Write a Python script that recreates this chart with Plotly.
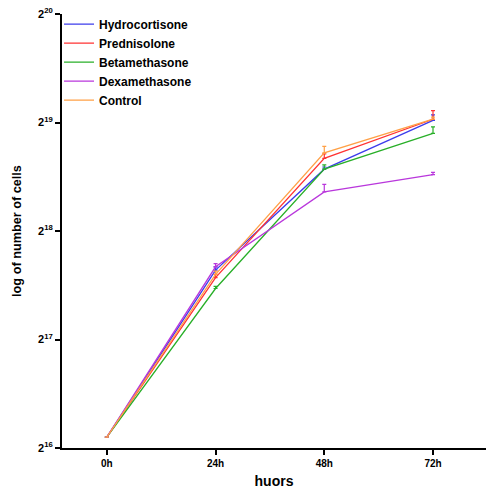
import plotly.graph_objects as go

hours = [0, 24, 48, 72]
x_labels = ["0h", "24h", "48h", "72h"]
y_tick_vals = [16, 17, 18, 19, 20]
y_tick_text = ["2<sup>16</sup>", "2<sup>17</sup>", "2<sup>18</sup>", "2<sup>19</sup>", "2<sup>20</sup>"]

# log2 of number of cells
hydrocortisone = [16.10, 17.64, 18.57, 19.02]
prednisolone = [16.10, 17.57, 18.67, 19.03]
betamethasone = [16.10, 17.47, 18.57, 18.90]
dexamethasone = [16.10, 17.67, 18.36, 18.52]
control = [16.10, 17.60, 18.72, 19.03]

# upper error (log2 units)
hydro_err = [0.0, 0.03, 0.02, 0.05]
pred_err = [0.0, 0.03, 0.04, 0.08]
beta_err = [0.0, 0.02, 0.04, 0.06]
dexa_err = [0.0, 0.03, 0.07, 0.02]
ctrl_err = [0.0, 0.03, 0.06, 0.02]

series = [
    ("Hydrocortisone", hydrocortisone, hydro_err, "rgb(60,60,235)"),
    ("Prednisolone", prednisolone, pred_err, "rgb(255,50,50)"),
    ("Betamethasone", betamethasone, beta_err, "rgb(40,175,40)"),
    ("Dexamethasone", dexamethasone, dexa_err, "rgb(185,55,220)"),
    ("Control", control, ctrl_err, "rgb(255,160,70)"),
]

fig = go.Figure()
for name, vals, err, col in series:
    fig.add_trace(go.Scatter(
        x=hours, y=vals, name=name, mode="lines",
        line=dict(color=col, width=1.3),
        error_y=dict(type="data", symmetric=False, array=err,
                     arrayminus=[0] * len(err), color=col, thickness=1.2, width=2),
    ))

fig.update_layout(
    width=486, height=493,
    margin=dict(l=62, r=0, t=14, b=45),
    plot_bgcolor="white", paper_bgcolor="white",
    font=dict(family="Liberation Sans, Arial, sans-serif", color="black"),
    showlegend=True,
    legend=dict(x=-0.007, y=1.01, xanchor="left", yanchor="top",
                font=dict(size=12, family="Liberation Sans, Arial", weight="bold"),
                bgcolor="rgba(0,0,0,0)", itemwidth=30, tracegroupgap=0),
    xaxis=dict(range=[-9.9, 83.7], tickvals=hours, ticktext=x_labels,
               showgrid=False, zeroline=False, showline=True, linecolor="black",
               linewidth=2, ticks="outside", ticklen=5, tickwidth=2, tickcolor="black",
               tickfont=dict(size=10, weight="bold"),
               title=dict(text="huors", font=dict(size=14, weight="bold"), standoff=8)),
    yaxis=dict(range=[16, 20], tickvals=y_tick_vals, ticktext=y_tick_text,
               showgrid=False, zeroline=False, showline=True, linecolor="black",
               linewidth=2, ticks="outside", ticklen=5, tickwidth=2, tickcolor="black",
               tickfont=dict(size=11, weight="bold"), automargin=False,
               ticklabeloverflow="allow",
               title=dict(text="log of number of cells", font=dict(size=12.7, weight="bold"), standoff=14)),
)

fig.write_html("out.html", config={"displayModeBar": False},
               post_script="document.body.style.margin='0px';")
